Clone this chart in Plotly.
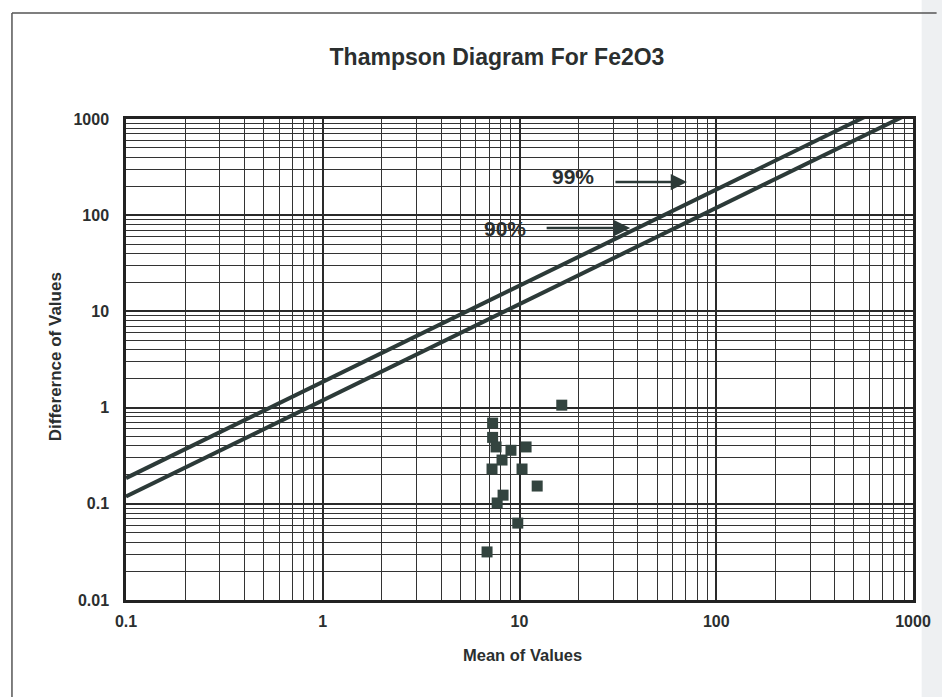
import math
import plotly.graph_objects as go

# ---- data ----
mean_values = [16.4, 7.3, 7.3, 7.6, 9.05, 10.8, 8.15, 7.25, 10.3, 12.3, 8.25, 7.7, 9.8, 6.84]
diff_values = [1.06, 0.69, 0.49, 0.39, 0.36, 0.39, 0.285, 0.23, 0.23, 0.153, 0.123, 0.102, 0.063, 0.0316]

line99_x = [0.1, 1000]
line99_y = [0.185, 1850]
line90_x = [0.1, 1000]
line90_y = [0.119, 1190]

label_text = ["99%", "90%"]
label_x = [18.7, 8.4]
label_y = [250, 73.6]
arrow_tail_x = [30.2, 13.5]
arrow_head_x = [71, 36.5]
arrow_y = [221, 73.6]

x_tickvals = [0.1, 1, 10, 100, 1000]
x_ticktext = ["0.1", "1", "10", "100", "1000"]
y_tickvals = [0.01, 0.1, 1, 10, 100, 1000]
y_ticktext = ["0.01", "0.1", "1", "10", "100", "1000"]

x_minor = [d * m for d in x_tickvals[:-1] for m in range(2, 10)]
y_minor = [d * m for d in y_tickvals[:-1] for m in range(2, 10)]

FONT = "Liberation Sans, Arial, sans-serif"
INK = "#2b2f2f"
LINE = "#2c3a38"

fig = go.Figure()
fig.add_trace(go.Scatter(x=line99_x, y=line99_y, mode="lines",
                         line=dict(color=LINE, width=4), showlegend=False))
fig.add_trace(go.Scatter(x=line90_x, y=line90_y, mode="lines",
                         line=dict(color=LINE, width=4), showlegend=False))
fig.add_trace(go.Scatter(x=mean_values, y=diff_values, mode="markers",
                         marker=dict(symbol="square", size=11, color="#33443f"),
                         showlegend=False, cliponaxis=True))

for t, lx, ly, tx, hx, ay in zip(label_text, label_x, label_y, arrow_tail_x, arrow_head_x, arrow_y):
    fig.add_annotation(x=math.log10(lx), y=math.log10(ly), xref="x", yref="y",
                       text=t, showarrow=False,
                       font=dict(family=FONT, size=21, color=INK, weight="bold"))
    fig.add_annotation(x=math.log10(hx), y=math.log10(ay), ax=math.log10(tx), ay=math.log10(ay),
                       xref="x", yref="y", axref="x", ayref="y", text="",
                       showarrow=True, arrowhead=2, arrowsize=1.3, arrowwidth=2.5,
                       arrowcolor=LINE, standoff=0)

axis_common = dict(
    type="log",
    showline=True, linecolor="#222", linewidth=2.5, mirror=True,
    showgrid=True, gridcolor="#2a2a2a", gridwidth=2,
    ticks="", zeroline=False,
    tickfont=dict(family=FONT, size=16, color=INK, weight="bold"),
)

fig.update_xaxes(**axis_common, range=[-1, 3], tickmode="array",
                 tickvals=x_tickvals, ticktext=x_ticktext, ticklabelstandoff=5,
                 minor=dict(tickmode="array", tickvals=x_minor, showgrid=True,
                            gridcolor="#333", gridwidth=1.4, ticks=""))
fig.update_yaxes(**axis_common, range=[-2, 3], tickmode="array",
                 tickvals=y_tickvals, ticktext=y_ticktext, ticklabelstandoff=11,
                 minor=dict(tickmode="array", tickvals=y_minor, showgrid=True,
                            gridcolor="#333", gridwidth=1.4, ticks=""))

# axis titles
fig.add_annotation(text="Mean of Values", xref="paper", yref="paper", x=0.504, y=-0.114,
                   xanchor="center", yanchor="middle",
                   showarrow=False, font=dict(family=FONT, size=16.5, color=INK, weight="bold"))
fig.add_annotation(text="Differernce of Values", xref="paper", yref="paper", x=-0.090, y=0.505,
                   xanchor="center", yanchor="middle",
                   textangle=-90, showarrow=False,
                   font=dict(family=FONT, size=17, color=INK, weight="bold"))

# page frame (scanned sheet border)
fig.add_shape(type="line", xref="paper", yref="paper", x0=-0.1449, x1=1.03, y0=1.2204, y1=1.2204,
              line=dict(color="#555", width=1.5))
fig.add_shape(type="line", xref="paper", yref="paper", x0=-0.1449, x1=-0.1449, y0=1.2204, y1=-0.21,
              line=dict(color="#555", width=1.5))
fig.add_shape(type="rect", xref="paper", yref="paper", x0=1.011, x1=1.04, y0=1.25, y1=-0.21,
              line=dict(width=0), fillcolor="#eef0f2", layer="below")

fig.update_layout(
    width=942, height=697,
    margin=dict(l=126, r=29, t=119, b=97),
    paper_bgcolor="white", plot_bgcolor="white",
    title=dict(text="Thampson Diagram For Fe2O3", xref="container", yref="container",
               x=0.5276, y=0.918, xanchor="center", yanchor="middle",
               font=dict(family=FONT, size=23, color=INK, weight="bold")),
)

fig.write_html("out.html")
